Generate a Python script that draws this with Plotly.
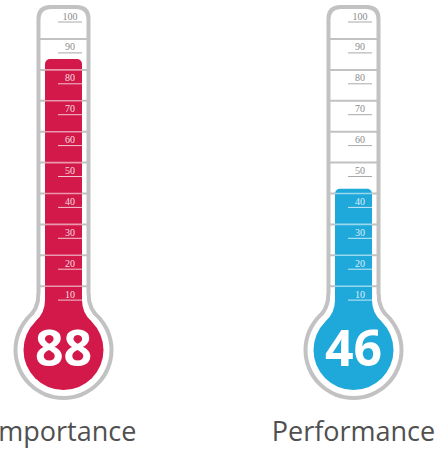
import plotly.graph_objects as go

# ---- data ----
categories = ["Importance", "Performance"]
values = [88, 46]
fill_colors = ["#d2194a", "#1fa8da"]
tick_values = [10, 20, 30, 40, 50, 60, 70, 80, 90, 100]
tick_labels = ["10", "20", "30", "40", "50", "60", "70", "80", "90", "100"]
section_values = [14.5, 24.5, 34.5, 44.5, 54.5, 64.5, 74.5, 84.5, 94.5]

# ---- geometry (pixel <-> data helpers) ----
W, H = 438, 457
PX_X = 290.0        # pixels per x unit (distance between thermometers)
PX_Y = 3.09         # pixels per value unit
X0_PIX = 63.5       # pixel column of x = 0
Y0_PIX = 331.0      # pixel row of value 0

x_range = [-X0_PIX / PX_X, (W - X0_PIX) / PX_X]
y_range = [(Y0_PIX - H) / PX_Y, Y0_PIX / PX_Y]


def dx(p):
    return p / PX_X


def dy(p):
    return p / PX_Y


def vy(row):
    return (Y0_PIX - row) / PX_Y


BULB_ROW = 350.0
yb = vy(BULB_ROW)
GRAY = "#c2c2c2"


def pt(xc, ox, row):
    return f"{xc + dx(ox):.5f},{vy(row):.5f}"


def tube_path(xc, half, row_top, row_bottom, r):
    xl, xr = -half, half
    return (f"M {pt(xc, xl, row_bottom)} L {pt(xc, xl, row_top + r)} "
            f"Q {pt(xc, xl, row_top)} {pt(xc, xl + r, row_top)} "
            f"L {pt(xc, xr - r, row_top)} "
            f"Q {pt(xc, xr, row_top)} {pt(xc, xr, row_top + r)} "
            f"L {pt(xc, xr, row_bottom)} Z")


def flare_path(xc, half, row0, ctrl_row, ox_end, row_end):
    return (f"M {pt(xc, -half, row0)} Q {pt(xc, -half, ctrl_row)} {pt(xc, -ox_end, row_end)} "
            f"L {pt(xc, ox_end, row_end)} Q {pt(xc, half, ctrl_row)} {pt(xc, half, row0)} Z")


def circle(xc, r, color, layer="below"):
    return dict(type="circle", xref="x", yref="y", layer=layer,
                x0=xc - dx(r), x1=xc + dx(r), y0=yb - dy(r), y1=yb + dy(r),
                fillcolor=color, line=dict(width=0))


shapes = []
traces = []
for i, (cat, val, col) in enumerate(zip(categories, values, fill_colors)):
    xc = float(i)
    # outer gray body
    shapes.append(circle(xc, 50, GRAY))
    shapes.append(dict(type="path", xref="x", yref="y", layer="below",
                       path=tube_path(xc, 27, 5, BULB_ROW, 14), fillcolor=GRAY, line=dict(width=0)))
    shapes.append(dict(type="path", xref="x", yref="y", layer="below",
                       path=flare_path(xc, 27, 294, 309, 39, 318.7), fillcolor=GRAY, line=dict(width=0)))
    # white interior
    shapes.append(circle(xc, 46, "white"))
    shapes.append(dict(type="path", xref="x", yref="y", layer="below",
                       path=tube_path(xc, 23, 9, BULB_ROW, 11), fillcolor="white", line=dict(width=0)))
    shapes.append(dict(type="path", xref="x", yref="y", layer="below",
                       path=flare_path(xc, 23, 294, 310, 35, 320.2), fillcolor="white", line=dict(width=0)))
    # section lines (gray, under the fill)
    for s in section_values:
        shapes.append(dict(type="line", xref="x", yref="y", layer="below",
                           x0=xc - dx(24), x1=xc + dx(24), y0=s, y1=s,
                           line=dict(color=GRAY, width=2)))
    # coloured bulb
    shapes.append(circle(xc, 40, col))
    shapes.append(dict(type="path", xref="x", yref="y", layer="below",
                       path=flare_path(xc, 18.5, 300, 313, 28, 321.4), fillcolor=col, line=dict(width=0)))
    # section lines crossing the fill (light)
    for s in section_values:
        if s < val - 1:
            shapes.append(dict(type="line", xref="x", yref="y", layer="above",
                               x0=xc - dx(18.5), x1=xc + dx(18.5), y0=s, y1=s,
                               line=dict(color="rgba(255,255,255,0.55)", width=1.6)))
    # tick underlines
    for t in tick_values:
        c = "rgba(255,255,255,0.75)" if t <= val else "#a8a8a8"
        shapes.append(dict(type="line", xref="x", yref="y", layer="above",
                           x0=xc - dx(5.5), x1=xc + dx(18.5), y0=t, y1=t,
                           line=dict(color=c, width=1)))

    # the fill column
    traces.append(go.Bar(x=[xc], y=[val - yb], base=[yb], width=dx(37),
                         marker=dict(color=col, line=dict(width=0), cornerradius=5),
                         hoverinfo="skip", showlegend=False))
    # tick labels
    traces.append(go.Scatter(
        x=[xc + dx(6.5)] * len(tick_values), y=[t + dy(5) for t in tick_values],
        text=tick_labels, mode="text", textposition="middle center", cliponaxis=False,
        textfont=dict(family="Liberation Serif", size=10,
                      color=["rgba(255,255,255,0.85)" if t <= val else "#8c8c8c" for t in tick_values]),
        hoverinfo="skip", showlegend=False))
    # value in bulb
    traces.append(go.Scatter(
        x=[xc], y=[yb - dy(3.5)], text=[f"<b>{val}</b>"], mode="text", textposition="middle center",
        cliponaxis=False, textfont=dict(family="Open Sans", size=50, color="white"),
        hoverinfo="skip", showlegend=False))
    # category label
    traces.append(go.Scatter(
        x=[xc], y=[vy(434)], text=[cat], mode="text", textposition="middle center",
        cliponaxis=False, textfont=dict(family="Open Sans", size=27, color="#505050"),
        hoverinfo="skip", showlegend=False))

fig = go.Figure(traces)
fig.update_layout(
    width=W, height=H, margin=dict(l=0, r=0, t=0, b=0),
    paper_bgcolor="white", plot_bgcolor="white",
    shapes=shapes, barmode="overlay", showlegend=False,
    xaxis=dict(range=x_range, visible=False, fixedrange=True),
    yaxis=dict(range=y_range, visible=False, fixedrange=True),
)
fig.write_html("out.html", config={"displayModeBar": False},
               post_script="document.body.style.margin='0px';document.body.style.overflow='hidden';")
